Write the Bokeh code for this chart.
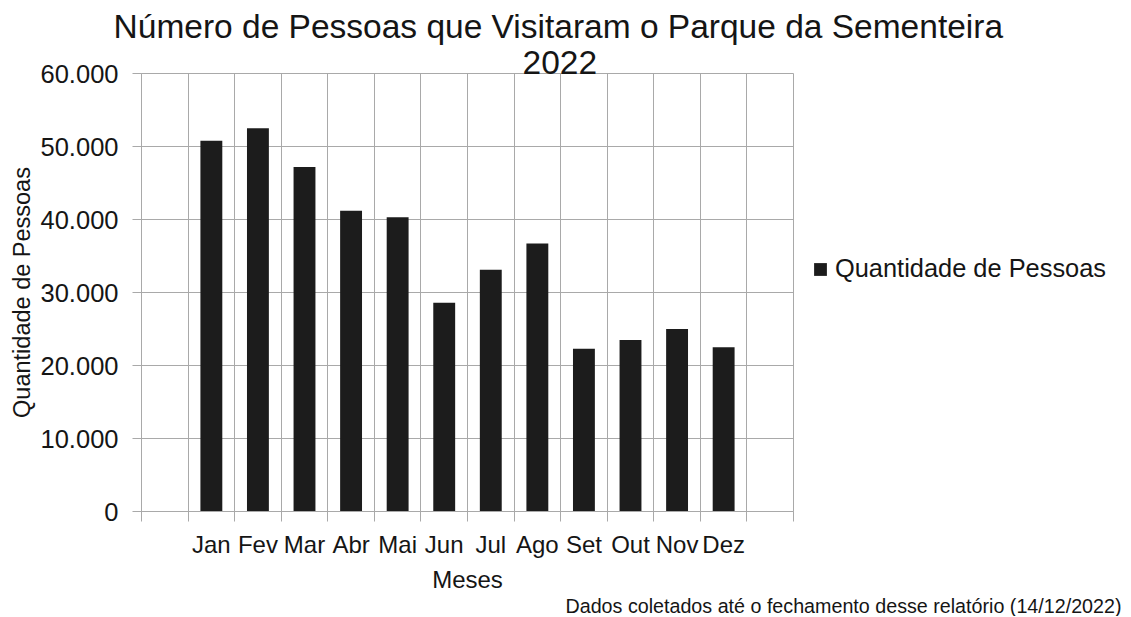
from bokeh.plotting import figure
from bokeh.models import (Range1d, FixedTicker, Title, Legend, LegendItem,
                          LinearAxis)
from bokeh.embed import file_html
from bokeh.resources import INLINE

# ---- data ----
months = ["Jan", "Fev", "Mar", "Abr", "Mai", "Jun", "Jul", "Ago", "Set", "Out", "Nov", "Dez"]
visitors = [50800, 52500, 47200, 41200, 40300, 28600, 33100, 36700, 22300, 23500, 25000, 22500]
y_ticks = [0, 10000, 20000, 30000, 40000, 50000, 60000]
y_tick_labels = ["0", "10.000", "20.000", "30.000", "40.000", "50.000", "60.000"]
series_name = "Quantidade de Pessoas"
title_line1 = "Número de Pessoas que Visitaram o Parque da Sementeira"
title_line2 = "2022"
x_title = "Meses"
y_title = "Quantidade de Pessoas"
footnote = "Dados coletados até o fechamento desse relatório (14/12/2022)"

FONT = "Liberation Sans"
GRID = "#a9a9a9"
TXT = "#151515"

positions = list(range(1, len(months) + 1))
boundaries = [i - 0.5 for i in range(len(months) + 3)]
title_center = 8.45  # horizontal anchor of the first title line (x data units)

p = figure(
    frame_width=652, frame_height=438,
    x_range=Range1d(-0.5, len(months) + 1.5),
    y_range=Range1d(0, 60000),
    output_backend="svg", toolbar_location=None,
    min_border_left=141, min_border_right=337,
    min_border_top=73, min_border_bottom=105,
)

bars = p.vbar(x=positions, top=visitors, width=0.47, fill_color="#1c1c1c",
              line_color=None)

# x axis
xa = p.xaxis[0]
xa.ticker = FixedTicker(ticks=positions, minor_ticks=boundaries)
xa.major_label_overrides = {pos: m for pos, m in zip(positions, months)}
xa.major_tick_out = 0
xa.major_tick_in = 0
xa.minor_tick_out = 10
xa.minor_tick_in = 0
xa.minor_tick_line_color = GRID
xa.axis_line_color = GRID
xa.major_label_text_font = FONT
xa.major_label_text_font_size = "24px"
xa.major_label_text_color = TXT
xa.major_label_standoff = 9
xa.axis_label = x_title
xa.axis_label_text_font = FONT
xa.axis_label_text_font_size = "24px"
xa.axis_label_text_font_style = "normal"
xa.axis_label_text_color = TXT
xa.axis_label_standoff = 5

# y axis
ya = p.yaxis[0]
ya.ticker = FixedTicker(ticks=y_ticks)
ya.major_label_overrides = {t: l for t, l in zip(y_ticks, y_tick_labels)}
ya.major_tick_out = 9
ya.major_tick_in = 0
ya.minor_tick_out = 0
ya.minor_tick_in = 0
ya.major_tick_line_color = GRID
ya.axis_line_color = GRID
ya.major_label_text_font = FONT
ya.major_label_text_font_size = "25.5px"
ya.major_label_text_color = TXT
ya.major_label_standoff = 14
ya.axis_label = y_title
ya.axis_label_text_font = FONT
ya.axis_label_text_font_size = "23.5px"
ya.axis_label_text_font_style = "normal"
ya.axis_label_text_color = TXT
ya.axis_label_standoff = 3

# grids
p.xgrid.grid_line_color = None
p.xgrid.minor_grid_line_color = GRID
p.ygrid.grid_line_color = GRID
p.outline_line_color = GRID

# legend (side panel, so it is not clipped to the frame)
lg = Legend(items=[LegendItem(label=series_name, renderers=[bars])],
            location=(19, 228), padding=0, margin=0, border_line_color=None,
            background_fill_alpha=0, glyph_width=16, glyph_height=16,
            label_standoff=7, label_text_font=FONT, label_text_font_size="25.4px",
            label_text_color=TXT)
p.add_layout(lg, "right")

# title: second line as a Title next to the frame, first line as an
# unadorned axis label above it
t2 = Title(text=title_line2, align="left", offset=381, vertical_align="bottom",
           standoff=0, text_font=FONT, text_font_size="33.5px",
           text_font_style="normal", text_color=TXT)
p.add_layout(t2, "above")

title_axis = LinearAxis(
    ticker=FixedTicker(ticks=[title_center]),
    major_label_overrides={title_center: title_line1},
    axis_line_color=None, major_tick_line_color=None, minor_tick_line_color=None,
    major_tick_out=0, major_tick_in=0, minor_tick_out=0, minor_tick_in=0,
    major_label_standoff=4, major_label_text_font=FONT,
    major_label_text_font_size="33.5px", major_label_text_color=TXT,
)
p.add_layout(title_axis, "above")

fn = Title(text=footnote, align="left", offset=424, vertical_align="bottom",
           standoff=-6, text_font=FONT, text_font_size="19.7px",
           text_font_style="normal", text_color=TXT)
p.add_layout(fn, "below")

open("out.html", "w").write(file_html(p, INLINE))
